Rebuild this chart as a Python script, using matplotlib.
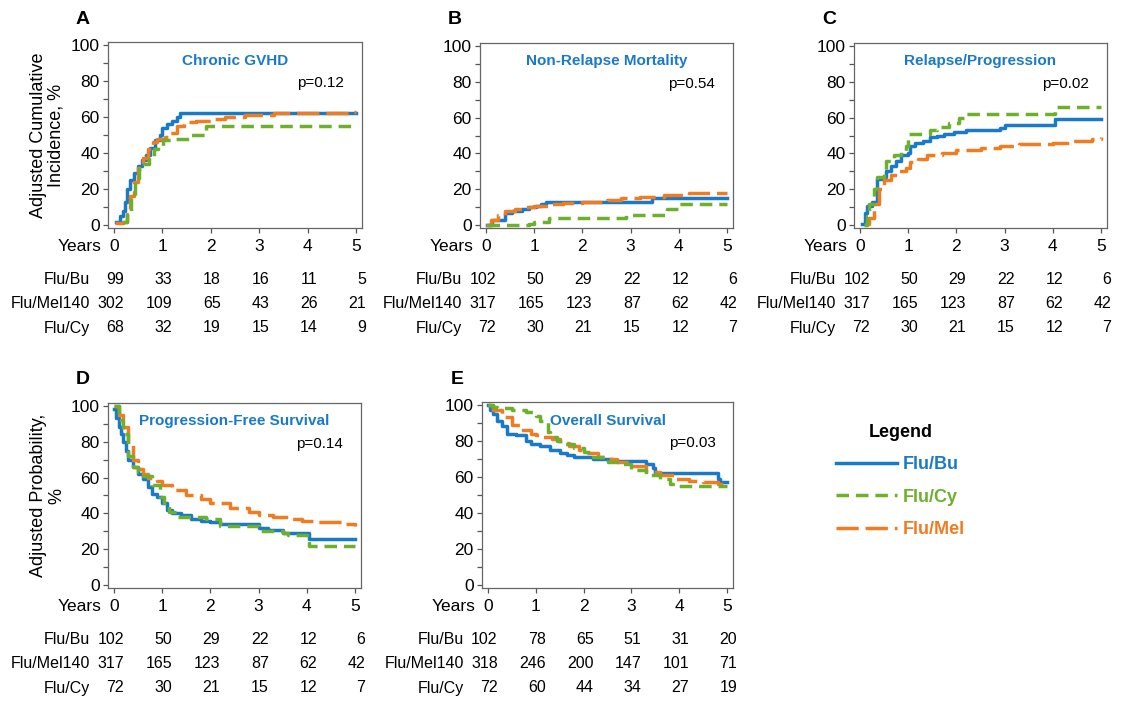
import matplotlib.pyplot as plt
import numpy as np

plt.rcParams['font.family'] = ['Liberation Sans', 'DejaVu Sans']
plt.rcParams['lines.scale_dashes'] = False

W, H = 1126, 707

years = [0, 1, 2, 3, 4, 5]
groups = ['Flu/Bu', 'Flu/Mel140', 'Flu/Cy']

# A - chronic GVHD
a_bu_t = [0.05, 0.12, 0.18, 0.23, 0.28, 0.33, 0.42, 0.5, 0.58, 0.66, 0.75, 0.85, 0.95, 1.0, 1.1, 1.2, 1.3, 1.37, 5.0]
a_bu_y = [2, 5, 8, 13, 20, 25, 29, 33, 36, 39, 43, 47, 50, 54, 56, 58, 60, 62, 62]
a_cy_t = [0.19, 0.28, 0.36, 0.44, 0.52, 0.62, 0.72, 0.82, 0.92, 1.02, 1.2, 1.6, 1.9, 5.0]
a_cy_y = [2, 7, 16, 26, 31, 34, 38, 42, 44, 47, 48, 50, 55, 55]
a_mel_t = [0.02, 0.18, 0.28, 0.34, 0.42, 0.5, 0.6, 0.7, 0.8, 0.9, 1.05, 1.15, 1.3, 1.45, 1.7, 2.0, 2.3, 2.7, 3.3, 4.9, 5.0]
a_mel_y = [1, 2, 6, 16, 24, 32, 37, 42, 46, 48, 49, 51, 55, 57, 58, 59, 60, 61, 62, 62.5, 63]
a_risk = [[99, 33, 18, 16, 11, 5], [302, 109, 65, 43, 26, 21], [68, 32, 19, 15, 14, 9]]

# B - non-relapse mortality
b_bu_t = [0.02, 0.12, 0.4, 0.55, 0.75, 0.9, 1.05, 1.15, 1.25, 3.45, 5.0]
b_bu_y = [0, 3, 7, 8, 9, 10, 11, 12, 13, 15, 15]
b_cy_t = [0.02, 0.9, 1.0, 1.3, 2.9, 3.75, 4.0, 5.0]
b_cy_y = [0, 1, 2, 4, 6, 9, 12, 12]
b_mel_t = [0.0, 0.1, 0.25, 0.4, 0.6, 0.8, 1.0, 1.3, 1.6, 2.0, 2.5, 2.8, 3.2, 3.7, 4.2, 5.0]
b_mel_y = [0, 3, 6, 8, 9, 10, 11, 12, 12.5, 13, 14, 15, 16, 17, 18, 18]
b_risk = [[102, 50, 29, 22, 12, 6], [317, 165, 123, 87, 62, 42], [72, 30, 21, 15, 12, 7]]

# C - relapse/progression
c_bu_t = [0.05, 0.1, 0.15, 0.25, 0.35, 0.5, 0.55, 0.65, 0.75, 0.85, 1.0, 1.05, 1.15, 1.3, 1.45, 1.6, 1.75, 1.95, 2.2, 2.9, 3.0, 4.05, 5.0]
c_bu_y = [1, 7, 11, 13, 26, 27, 30, 33, 36, 39, 40, 44, 46, 47, 49, 50, 51, 52, 53, 54, 56, 59, 59]
c_cy_t = [0.08, 0.15, 0.2, 0.3, 0.35, 0.5, 0.55, 0.7, 0.85, 0.95, 1.0, 1.45, 1.6, 1.85, 2.05, 2.15, 4.05, 5.0]
c_cy_y = [0, 5, 12, 20, 27, 30, 36, 39, 41, 44, 51, 53, 55, 57, 60, 62, 66, 66]
c_mel_t = [0.1, 0.2, 0.3, 0.4, 0.5, 0.65, 0.8, 0.95, 1.05, 1.2, 1.4, 1.7, 2.0, 2.5, 2.9, 3.3, 4.0, 4.4, 4.8, 5.0]
c_mel_y = [1, 4, 12, 20, 25, 28, 30, 32, 35, 37, 39, 40, 42, 43, 44, 45, 46, 47, 48, 49]
c_risk = [[102, 50, 29, 22, 12, 6], [317, 165, 123, 87, 62, 42], [72, 30, 21, 15, 12, 7]]

# D - progression-free survival
d_bu_t = [0.0, 0.05, 0.1, 0.15, 0.2, 0.25, 0.3, 0.4, 0.5, 0.6, 0.7, 0.8, 0.9, 1.0, 1.1, 1.2, 1.4, 1.6, 1.8, 2.0, 2.2, 3.0, 3.2, 3.5, 4.05, 5.0]
d_bu_y = [98, 93, 88, 84, 80, 75, 70, 66, 62, 59, 55, 51, 49, 46, 42, 40, 39, 37, 36, 35, 34, 32, 31, 29, 26, 26]
d_cy_t = [0.0, 0.1, 0.2, 0.3, 0.4, 0.5, 0.6, 0.8, 0.95, 1.05, 1.15, 1.3, 1.9, 2.2, 3.0, 3.5, 3.6, 4.0, 4.05, 5.0]
d_cy_y = [100, 92, 84, 72, 66, 63, 61, 56, 49, 44, 41, 38, 37, 33, 30, 29, 28, 27, 22, 22]
d_mel_t = [0.0, 0.1, 0.2, 0.3, 0.4, 0.5, 0.6, 0.7, 0.9, 1.0, 1.2, 1.5, 1.8, 2.0, 2.4, 2.8, 3.0, 3.3, 3.6, 3.9, 4.2, 4.8, 5.0]
d_mel_y = [100, 95, 88, 78, 70, 65, 62, 60, 58, 56, 53, 50, 48, 46, 43, 41, 39, 38, 37, 36, 35, 34, 33]
d_risk = [[102, 50, 29, 22, 12, 6], [317, 165, 123, 87, 62, 42], [72, 30, 21, 15, 12, 7]]

# E - overall survival
e_bu_t = [0.0, 0.05, 0.1, 0.2, 0.3, 0.4, 0.6, 0.8, 0.9, 1.1, 1.3, 1.5, 1.65, 1.8, 2.2, 2.6, 3.3, 3.45, 3.5, 4.8, 4.85, 5.0]
e_bu_y = [100, 97, 95, 91, 88, 84, 83, 80, 78, 77, 75, 73, 72, 71, 70, 69, 67, 65, 62, 59, 57, 57]
e_cy_t = [0.0, 0.1, 0.2, 0.5, 0.8, 1.0, 1.1, 1.25, 1.3, 1.45, 1.6, 1.8, 2.0, 2.2, 2.5, 2.8, 3.0, 3.3, 3.6, 3.8, 4.0, 5.0]
e_cy_y = [100, 99, 98, 97, 96, 94, 91, 85, 82, 80, 78, 76, 74, 71, 68, 67, 64, 61, 59, 56, 55, 55]
e_mel_t = [0.0, 0.1, 0.3, 0.5, 0.7, 0.9, 1.0, 1.1, 1.35, 1.5, 1.7, 1.9, 2.1, 2.3, 2.5, 2.7, 3.0, 3.3, 3.6, 3.9, 4.2, 4.5, 4.8, 5.0]
e_mel_y = [100, 97, 93, 89, 86, 84, 83, 82, 81, 79, 77, 75, 73, 71, 70, 68, 66, 63, 61, 59, 58, 57, 56, 55]
e_risk = [[102, 78, 65, 51, 31, 20], [318, 246, 200, 147, 101, 71], [72, 60, 44, 34, 27, 19]]

blue = '#1a7ac8'
green = '#6cb02c'
orange = '#f07c22'
styles = {
    'bu': dict(color=blue, lw=2.5, ls='-'),
    'cy': dict(color=green, lw=2.5, ls=(0, (9, 5))),
    'mel': dict(color=orange, lw=2.5, ls=(0, (16, 5))),
}

fig = plt.figure(figsize=(W / 100, H / 100), dpi=100)


def box(l, t, r, b):
    return [l / W, 1 - b / H, (r - l) / W, (b - t) / H]


def panel(rect, letter, title, pval, curves, risk, ylabel=None):
    ax = fig.add_axes(rect)
    for key, t, y, lab in curves:
        ax.step(t, y, where='post', label=lab, **styles[key])
    ax.set_xlim(-0.12, 5.12)
    ax.set_ylim(-1.5, 101.5)
    ax.set_xticks(years)
    ax.set_yticks(range(0, 101, 20))
    ax.set_yticks(range(10, 100, 20), minor=True)
    ax.tick_params(which='both', direction='out', length=3.6, width=0.9,
                   color='#555555', labelsize=12.5, pad=2.5)
    ax.tick_params(axis='x', pad=4.5)
    for s in ax.spines.values():
        s.set_color('#666666')
        s.set_linewidth(0.9)
    ax.text(0.5, 0.9, title, transform=ax.transAxes, ha='center', va='center',
            color=blue, fontsize=11, fontweight='bold')
    ax.text(0.93, 0.78, pval, transform=ax.transAxes, ha='right', va='center',
            fontsize=11)
    ax.annotate(letter, xy=(0, 1), xycoords='axes fraction', xytext=(-25, 23),
                textcoords='offset pixels', ha='center', va='center',
                fontsize=14, fontweight='bold')
    ax.annotate('Years', xy=(0, 0), xycoords=('data', 'axes fraction'),
                xytext=(-9, -8.1), textcoords='offset points',
                ha='right', va='top', fontsize=12.5)
    for i, (g, row) in enumerate(zip(groups, risk)):
        dy = -52 - i * 24
        ax.annotate(g, xy=(0, 0), xycoords=('data', 'axes fraction'),
                    xytext=(-24, dy), textcoords='offset pixels',
                    ha='right', va='center', fontsize=11.5)
        for yr, n in zip(years, row):
            ax.annotate(str(n), xy=(yr, 0), xycoords=('data', 'axes fraction'),
                        xytext=(10, dy), textcoords='offset pixels',
                        ha='right', va='center', fontsize=11.5)
    if ylabel:
        ax.set_ylabel(ylabel, fontsize=13, linespacing=1.1)
    return ax


panel(box(108, 42, 362, 228), 'A', 'Chronic GVHD', 'p=0.12',
      [('bu', a_bu_t, a_bu_y, 'Flu/Bu'), ('mel', a_mel_t, a_mel_y, 'Flu/Mel'),
       ('cy', a_cy_t, a_cy_y, 'Flu/Cy')],
      a_risk, 'Adjusted Cumulative\nIncidence, %')
panel(box(480, 43, 733, 228), 'B', 'Non-Relapse Mortality', 'p=0.54',
      [('bu', b_bu_t, b_bu_y, 'Flu/Bu'), ('mel', b_mel_t, b_mel_y, 'Flu/Mel'),
       ('cy', b_cy_t, b_cy_y, 'Flu/Cy')],
      b_risk)
panel(box(854, 43, 1107, 228), 'C', 'Relapse/Progression', 'p=0.02',
      [('bu', c_bu_t, c_bu_y, 'Flu/Bu'), ('mel', c_mel_t, c_mel_y, 'Flu/Mel'),
       ('cy', c_cy_t, c_cy_y, 'Flu/Cy')],
      c_risk)
panel(box(108, 403, 361, 588), 'D', 'Progression-Free Survival', 'p=0.14',
      [('bu', d_bu_t, d_bu_y, 'Flu/Bu'), ('mel', d_mel_t, d_mel_y, 'Flu/Mel'),
       ('cy', d_cy_t, d_cy_y, 'Flu/Cy')],
      d_risk, 'Adjusted Probability,\n%')
ax_e = panel(box(482, 402, 733, 588), 'E', 'Overall Survival', 'p=0.03',
             [('bu', e_bu_t, e_bu_y, 'Flu/Bu'), ('mel', e_mel_t, e_mel_y, 'Flu/Mel'),
              ('cy', e_cy_t, e_cy_y, 'Flu/Cy')],
             e_risk)

h, l = ax_e.get_legend_handles_labels()
order = [0, 2, 1]
fig.legend([h[i] for i in order], [l[i] for i in order], title='Legend',
           loc='upper left', bbox_to_anchor=(836 / W, 1 - 424 / H),
           frameon=False, labelcolor='linecolor', handlelength=3.4,
           handletextpad=0.3, labelspacing=0.85, borderpad=0, borderaxespad=0,
           prop={'weight': 'bold', 'size': 13},
           title_fontproperties={'weight': 'bold', 'size': 13})

fig.savefig('out.png', dpi=100)
